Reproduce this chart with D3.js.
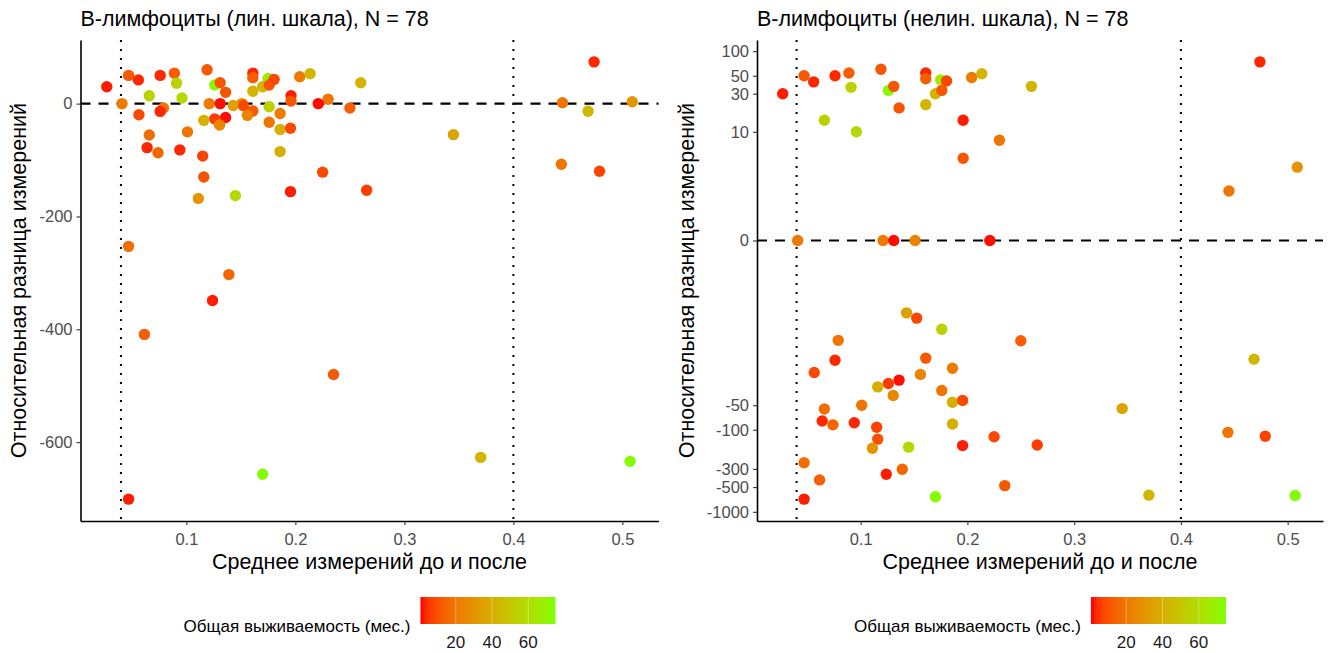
<!DOCTYPE html>
<html><head><meta charset="utf-8">
<script src="https://cdn.jsdelivr.net/npm/d3@7"></script>
<style>
body{margin:0;background:#fff;}
text{font-family:"Liberation Sans",Arial,sans-serif;}
</style>
</head><body>
<svg id="chart" width="1336" height="653"></svg>
<script>
// ---- data ----
const xMean = [0.027,0.047,0.056,0.076,0.089,0.091,0.066,0.096,0.119,0.126,0.131,0.136,0.161,0.161,0.161,0.170,0.175,0.176,0.1805,0.196,0.196,0.204,0.2135,0.230,0.260,0.474,0.509,0.445,
0.041,0.121,0.131,0.151,0.221,
0.143,0.1525,0.176,0.079,0.250,0.076,0.161,0.0565,0.186,0.156,0.136,0.126,0.116,0.176,0.1305,0.186,0.1955,0.101,0.066,0.064,0.074,0.094,0.115,0.186,0.116,0.111,0.145,0.1955,0.225,0.047,0.0615,0.124,0.139,0.047,0.170,0.235,0.2654,0.345,0.370,0.4685,0.444,0.479,0.507];
const yDiff = [30,50,42,50,54,36,14,10,60,33,37,20,54,46,22,30,44.5,33,43,14,4.5,47.5,53,7.8,37,74,3.4,1.5,
0,0,0,0,0,
-3.3,-3.9,-5.5,-7.7,-7.8,-13.8,-13,-19.7,-17.4,-20.8,-24.5,-27,-29.7,-33,-38,-46,-43.6,-50,-55.7,-78,-87,-82,-93,-85,-130,-168,-163,-156,-121.5,-253,-409,-349,-303,-701,-657,-480,-153.5,-55,-627,-13.4,-107.5,-120,-634];
const survival = [2,12,3,3,13,55,55,57,11,72,11,11,3,13,42,42,65,11,8,2,11,21,42,19,42,3,30,19,
21,21,1,24,1,
35,8,55,19,13,3,12,8,21,24,1,6,40,19,25,40,8,19,17,3,15,3,7,40,10,30,58,2,8,17,13,2,15,2,74,12,6,36,42,44,19,7,74];
const xTicks = [0.1,0.2,0.3,0.4,0.5];
const yTicksLin = [0,-200,-400,-600];
const yTicksNonlin = [100,50,30,10,0,-50,-100,-300,-500,-1000];
const legendTicks = [20,40,60];
const refX = [0.04,0.4];
const refY = [0];
const colorDomain = [0.5,75];
const titles = ["B-лимфоциты (лин. шкала), N = 78","B-лимфоциты (нелин. шкала), N = 78"];
const xTitle = "Среднее измерений до и после";
const yTitle = "Относительная разница измерений";
const legendTitle = "Общая выживаемость (мес.)";

// ---- setup ----
const svg = d3.select("#chart");
const color = d3.scaleSequential(d3.interpolateLab("#FF0000","#7FFF00")).domain(colorDomain);
const pts = xMean.map((x,i)=>({x, y:yDiff[i], c:survival[i]}));
const xExt = d3.extent(xMean), yExt = d3.extent(yDiff);
const pad = (e)=>{const s=(e[1]-e[0])*0.05; return [e[0]-s,e[1]+s];};

function panel(opts){
  const {x0,x1,y0,y1,yScale,yTicks,title,yTitleX} = opts;
  const g = svg.append("g");
  const x = d3.scaleLinear().domain(pad(xExt)).range([x0,x1]);
  const y = yScale.range([y1,y0]);
  // title
  g.append("text").attr("x",x0).attr("y",26).attr("font-size",21.5).attr("fill","#000").text(title);
  // ref lines
  refX.forEach(v=>{
    g.append("line").attr("x1",x(v)).attr("x2",x(v)).attr("y1",y0).attr("y2",y1)
      .attr("stroke","#000").attr("stroke-width",2).attr("stroke-dasharray","2 7");
  });
  refY.forEach(v=>{
    g.append("line").attr("x1",x0).attr("x2",x1).attr("y1",y(v)).attr("y2",y(v))
      .attr("stroke","#000").attr("stroke-width",2.2).attr("stroke-dasharray","10 8");
  });
  // points
  g.append("g").selectAll("circle").data(pts).join("circle")
    .attr("cx",d=>x(d.x)).attr("cy",d=>y(d.y)).attr("r",5.7)
    .attr("fill",d=>color(d.c));
  // axes
  const ax = g.append("g").attr("transform",`translate(0,${y1})`)
    .call(d3.axisBottom(x).tickValues(xTicks).tickSize(4).tickSizeOuter(0).tickFormat(d=>String(d)));
  const ay = g.append("g").attr("transform",`translate(${x0},0)`)
    .call(d3.axisLeft(y).tickValues(yTicks).tickSize(4).tickSizeOuter(0).tickFormat(d=>String(d)));
  [ax,ay].forEach(a=>{
    a.select(".domain").attr("stroke","#000").attr("stroke-width",1.6);
    a.selectAll(".tick line").attr("stroke","#333").attr("stroke-width",1.1);
    a.selectAll(".tick text").attr("font-size",16.5).attr("fill","#4d4d4d")
      .attr("font-family","Liberation Sans, Arial, sans-serif");
  });
  ax.selectAll(".tick text").attr("dy","1.0em");
  ay.selectAll(".tick text").attr("dx","-1px");
  // axis titles
  g.append("text").attr("x",(x0+x1)/2).attr("y",569).attr("text-anchor","middle")
    .attr("font-size",21.5).attr("fill","#000").text(xTitle);
  g.append("text").attr("transform",`translate(${yTitleX},${(y0+y1)/2}) rotate(-90)`)
    .attr("text-anchor","middle").attr("font-size",21.5).attr("fill","#000").text(yTitle);
  // legend
  const lg = g.append("g");
  const barW = 135, barH = 27, barY = 597;
  const t = lg.append("text").attr("font-size",17).attr("fill","#000").attr("y",632).text(legendTitle);
  const tw = t.node().getComputedTextLength();
  const total = tw + 10 + barW;
  const left = (x0+x1)/2 - total/2;
  t.attr("x",left);
  const bx = left + tw + 10;
  const gid = "grad"+Math.round(x0);
  const grad = svg.append("defs").append("linearGradient").attr("id",gid);
  d3.range(0,1.0001,0.05).forEach(s=>{
    grad.append("stop").attr("offset",s).attr("stop-color",color(colorDomain[0]+s*(colorDomain[1]-colorDomain[0])));
  });
  lg.append("rect").attr("x",bx).attr("y",barY).attr("width",barW).attr("height",barH).attr("fill",`url(#${gid})`);
  const lx = d3.scaleLinear().domain(colorDomain).range([bx,bx+barW]);
  legendTicks.forEach(v=>{
    lg.append("line").attr("x1",lx(v)).attr("x2",lx(v)).attr("y1",barY).attr("y2",barY+barH)
      .attr("stroke","#fff").attr("stroke-opacity",0.35).attr("stroke-width",1);
    lg.append("text").attr("x",lx(v)).attr("y",648).attr("text-anchor","middle")
      .attr("font-size",17).attr("fill","#1a1a1a").text(v);
  });
}

panel({x0:80.5,x1:658.5,y0:40,y1:521,
  yScale:d3.scaleLinear().domain(pad(yExt)),
  yTicks:yTicksLin,title:titles[0],yTitleX:26});

const symBase = d3.scaleSymlog().constant(0.5).domain(yExt).range([0,1]);
const symDom = [symBase.invert(-0.05), symBase.invert(1.05)];
panel({x0:757,x1:1323,y0:40,y1:521,
  yScale:d3.scaleSymlog().constant(0.5).domain(symDom),
  yTicks:yTicksNonlin,title:titles[1],yTitleX:694});
</script>
</body></html>
